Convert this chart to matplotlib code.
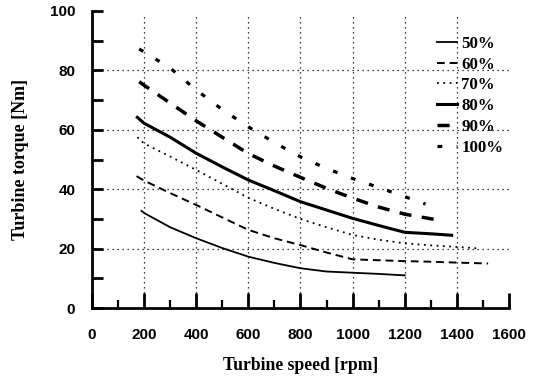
import numpy as np
import matplotlib
matplotlib.use('Agg')
import matplotlib.pyplot as plt

speed_50 = [190, 200, 300, 400, 500, 600, 700, 800, 900, 1000, 1100, 1200]
torque_50 = [32.7, 32.0, 27.2, 23.5, 20.2, 17.3, 15.2, 13.4, 12.3, 11.9, 11.5, 11.0]

speed_60 = [171, 200, 300, 400, 500, 600, 700, 800, 900, 1000, 1100, 1200, 1300, 1400, 1520]
torque_60 = [44.4, 42.9, 38.7, 34.7, 30.5, 26.3, 23.5, 21.2, 18.7, 16.4, 16.1, 15.8, 15.6, 15.3, 15.0]

speed_70 = [174, 200, 300, 400, 500, 600, 700, 800, 900, 1000, 1100, 1200, 1300, 1400, 1480]
torque_70 = [57.5, 55.4, 51.0, 46.5, 41.8, 37.1, 33.4, 30.0, 27.2, 24.6, 23.0, 21.8, 21.1, 20.6, 20.1]

speed_80 = [174, 200, 300, 400, 500, 600, 700, 800, 900, 1000, 1100, 1200, 1300, 1380]
torque_80 = [64.2, 62.2, 57.5, 52.1, 47.5, 43.1, 39.5, 35.8, 33.0, 30.2, 27.8, 25.5, 25.0, 24.5]

speed_90 = [181, 200, 300, 400, 500, 600, 700, 800, 900, 1000, 1100, 1200, 1330]
torque_90 = [76.2, 75.0, 69.0, 63.0, 57.5, 52.0, 47.8, 44.0, 40.3, 37.0, 34.0, 31.6, 29.6]

speed_100 = [181, 200, 300, 400, 500, 600, 700, 800, 900, 1000, 1100, 1200, 1280]
torque_100 = [87.2, 86.2, 80.8, 73.4, 66.8, 61.0, 55.7, 50.9, 47.0, 43.6, 40.6, 37.5, 35.0]

labels = ['50%', '60%', '70%', '80%', '90%', '100%']
grid_x = [200, 400, 600, 800, 1000, 1200, 1400]
grid_y = [20, 40, 60, 80]

fig = plt.figure(figsize=(5.38, 3.78), dpi=100)
ax = fig.add_axes([0.171, 0.185, 0.775, 0.786])

sans = 'Liberation Sans'
serif = 'Liberation Serif'

for x in grid_x:
    ax.axvline(x, ymax=0.986, color='black', lw=0.9, ls=(0, (1, 3)), zorder=1)
for y in grid_y:
    ax.axhline(y, color='black', lw=0.9, ls=(0, (1, 3)), zorder=1)

ax.plot(speed_50, torque_50, color='black', lw=1.3, ls='-', label=labels[0])
ax.plot(speed_60, torque_60, color='black', lw=1.4, ls=(0, (4, 2.5)), label=labels[1])
ax.plot(speed_70, torque_70, color='black', lw=1.3, ls=(0, (1, 2.5)), label=labels[2])
ax.plot(speed_80, torque_80, color='black', lw=2.2, ls='-', label=labels[3])
ax.plot(speed_90, torque_90, color='black', lw=2.5, ls=(0, (3.5, 3)), label=labels[4])
ax.plot(speed_100, torque_100, color='black', lw=2.3, ls=(0, (1.5, 4.5)), label=labels[5])

ax.set_xlim(0, 1600)
ax.set_ylim(0, 100)
ax.set_xticks(np.arange(0, 1601, 200))
ax.set_xticks(np.arange(100, 1600, 200), minor=True)
ax.set_yticks(np.arange(0, 101, 20))
ax.set_yticks(np.arange(10, 100, 20), minor=True)

for s in ['top', 'right']:
    ax.spines[s].set_visible(False)
for s in ['left', 'bottom']:
    ax.spines[s].set_linewidth(2.0)

ax.tick_params(axis='x', which='major', direction='in', length=11, width=2, pad=14)
ax.tick_params(axis='x', which='minor', direction='in', length=6, width=1.6)
ax.tick_params(axis='y', which='major', direction='in', length=8, width=2, pad=12)
ax.tick_params(axis='y', which='minor', direction='in', length=8, width=2)

for t in ax.get_xticklabels() + ax.get_yticklabels():
    t.set_fontfamily(sans)
    t.set_fontweight('bold')
    t.set_fontsize(11)

ax.set_xlabel('Turbine speed [rpm]', fontfamily=serif, fontweight='bold',
              fontsize=12.7, labelpad=11)
ax.set_ylabel('Turbine torque [Nm]', fontfamily=serif, fontweight='bold',
              fontsize=13, labelpad=15)

leg = fig.legend(loc='upper left', bbox_to_anchor=(0.812, 0.905), frameon=False,
                 prop={'family': serif, 'weight': 'bold', 'size': 12.2},
                 handlelength=1.2, handletextpad=0.25, labelspacing=0.28,
                 borderpad=0, borderaxespad=0)

fig.savefig('out.png', dpi=100)
